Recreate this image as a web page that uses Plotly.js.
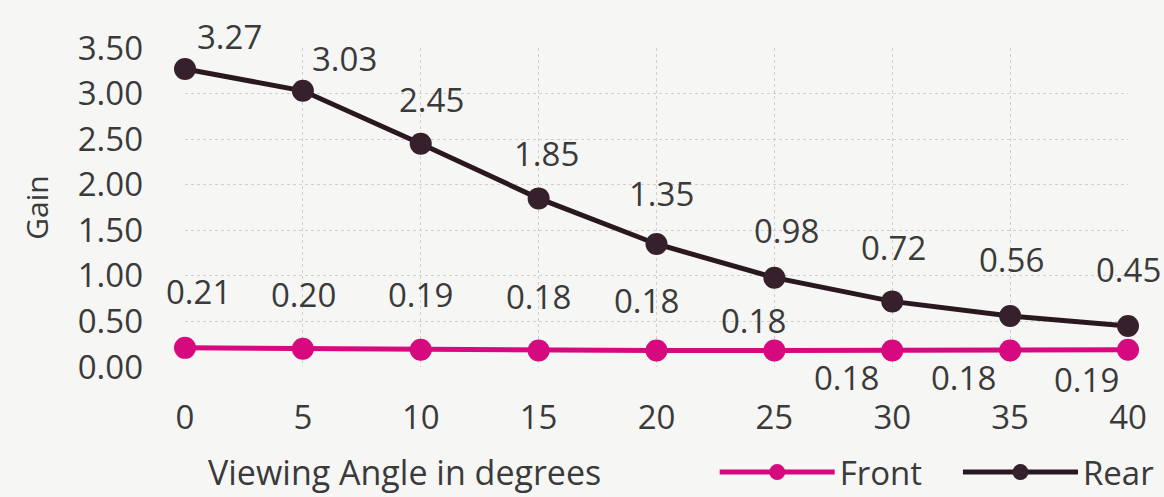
<!DOCTYPE html>
<html>
<head>
<meta charset="utf-8">
<script src="https://cdn.plot.ly/plotly-3.0.1.min.js"></script>
<style>
html,body{margin:0;padding:0;background:#f6f6f5;}
#chart{width:1164px;height:497px;}
</style>
</head>
<body>
<div id="chart"></div>
<script>
const angles = [0, 5, 10, 15, 20, 25, 30, 35, 40];
const frontGain = [0.21, 0.20, 0.19, 0.18, 0.18, 0.18, 0.18, 0.18, 0.19];
const rearGain = [3.27, 3.03, 2.45, 1.85, 1.35, 0.98, 0.72, 0.56, 0.45];
const yTicks = [0, 0.5, 1, 1.5, 2, 2.5, 3, 3.5];
const xTitle = 'Viewing Angle in degrees';
const yTitle = 'Gain';

// label offsets (style only)
const rearShift = [[44,32],[42,32],[11,44],[8,45],[5,50],[12,47],[1,54],[1,56],[0,56]];
const frontShift = [[13,56],[1,54],[0,55],[0,54],[-10,50],[-21,30],[-46,-27],[-47,-27],[-42,-30]];

const FONT = '"Open Sans", Lato, sans-serif';
const FS = 33;
const TXT = '#3a3a3a';
const FRONT_C = '#d6097e';
const REAR_C = '#35202c';

const traces = [
  {x: angles, y: frontGain, name: 'Front', type: 'scatter', mode: 'lines+markers', legend: 'legend',
   line: {color: FRONT_C, width: 5}, marker: {color: FRONT_C, size: 22}, cliponaxis: false},
  {x: angles, y: rearGain, name: 'Rear', type: 'scatter', mode: 'lines+markers', legend: 'legend2',
   line: {color: '#2a1820', width: 5}, marker: {color: REAR_C, size: 22}, cliponaxis: false}
];

const annotations = [];
angles.forEach((a, i) => {
  annotations.push({x: a, y: rearGain[i], text: rearGain[i].toFixed(2), showarrow: false,
    xshift: rearShift[i][0], yshift: rearShift[i][1], font: {family: FONT, size: FS, color: TXT}});
  annotations.push({x: a, y: frontGain[i], text: frontGain[i].toFixed(2), showarrow: false,
    xshift: frontShift[i][0], yshift: frontShift[i][1], font: {family: FONT, size: FS, color: TXT}});
});
annotations.push({xref: 'paper', yref: 'paper', x: 0.233, y: -0.33, xanchor: 'center', yanchor: 'middle',
  text: xTitle, showarrow: false, font: {family: FONT, size: 34, color: TXT}});

const legendBase = {orientation: 'h', xref: 'container', yref: 'container', y: 0.05,
  xanchor: 'left', yanchor: 'middle', font: {family: FONT, size: FS, color: TXT},
  bgcolor: 'rgba(0,0,0,0)', itemwidth: 115};

const layout = {
  width: 1164, height: 497,
  paper_bgcolor: '#f6f6f5', plot_bgcolor: '#f6f6f5',
  margin: {l: 185, r: 36, t: 48, b: 130, autoexpand: false},
  font: {family: FONT, color: TXT, size: FS},
  showlegend: true,
  legend: Object.assign({}, legendBase, {x: 0.614}),
  legend2: Object.assign({}, legendBase, {x: 0.823}),
  xaxis: {range: [0, 40], tickvals: angles, ticktext: angles.map(String), automargin: false,
    showgrid: true, gridcolor: '#cfcfcf', griddash: 'dot', gridwidth: 1,
    zeroline: false, showline: false, ticks: '', ticklabelstandoff: 28,
    tickfont: {family: FONT, size: FS, color: TXT}},
  yaxis: {range: [0, 3.5], tickvals: yTicks, ticktext: yTicks.map(v => v.toFixed(2)), automargin: false,
    showgrid: true, gridcolor: '#cfcfcf', griddash: 'dot', gridwidth: 1,
    zeroline: false, showline: false, ticks: '', ticklabelstandoff: 41,
    tickfont: {family: FONT, size: FS, color: TXT},
    title: {text: yTitle, font: {family: FONT, size: 30, color: TXT}, standoff: 20}},
  annotations: annotations
};

Plotly.newPlot('chart', traces, layout, {displayModeBar: false, staticPlot: true});
</script>
</body>
</html>
